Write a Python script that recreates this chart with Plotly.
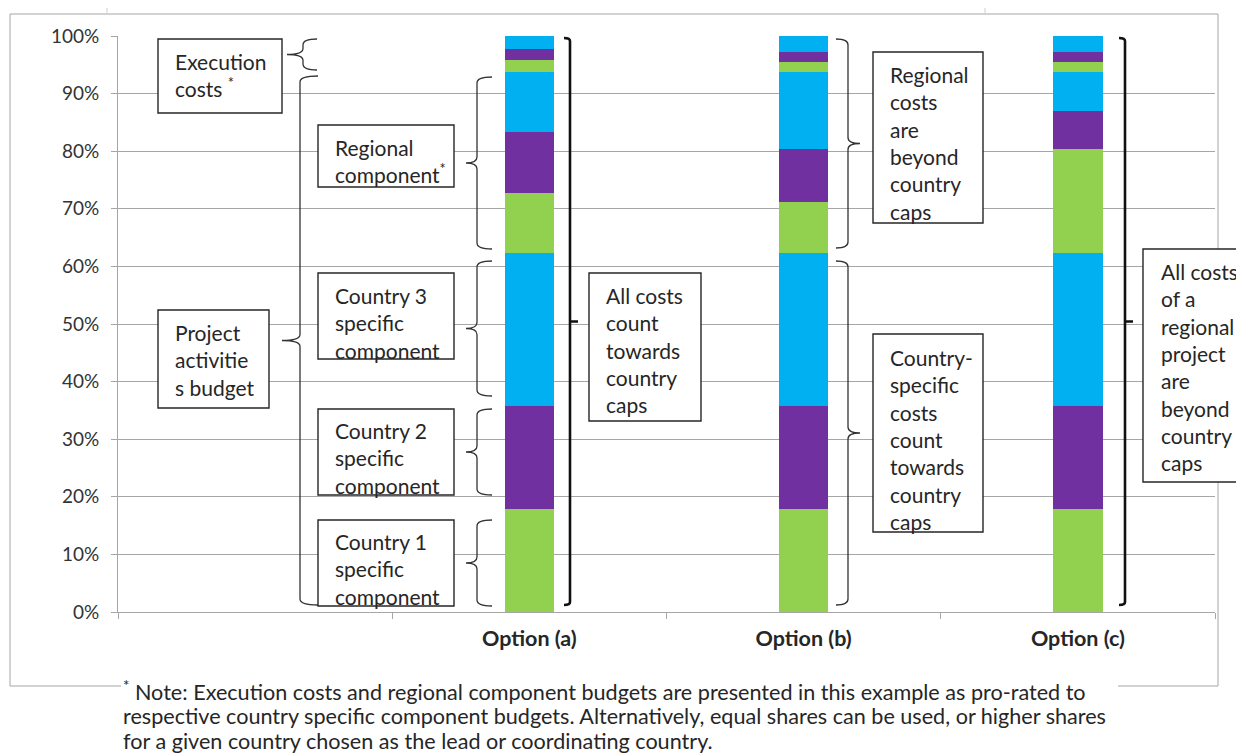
import plotly.graph_objects as go

# ---------------- data ----------------
options = ["Option (a)", "Option (b)", "Option (c)"]
categories = [" ", "Option (a)", "Option (b)", "Option (c)"]

country1 = [17.8, 17.8, 17.8]
country2 = [17.9, 17.9, 17.9]
country3 = [26.7, 26.7, 26.7]
regional1 = [10.4, 8.8, 17.9]
regional2 = [10.5, 9.1, 6.7]
regional3 = [10.4, 13.4, 6.7]
execution1 = [2.1, 1.8, 1.8]
execution2 = [1.9, 1.7, 1.7]
execution3 = [2.3, 2.8, 2.8]

y_ticks = [0, 10, 20, 30, 40, 50, 60, 70, 80, 90, 100]
y_tick_labels = ["0%", "10%", "20%", "30%", "40%", "50%", "60%", "70%", "80%", "90%", "100%"]

GREEN = "#92D050"
PURPLE = "#7030A0"
BLUE = "#00B0F0"

segments = [
    ("Country 1 specific component", country1, GREEN),
    ("Country 2 specific component", country2, PURPLE),
    ("Country 3 specific component", country3, BLUE),
    ("Regional component - country 1", regional1, GREEN),
    ("Regional component - country 2", regional2, PURPLE),
    ("Regional component - country 3", regional3, BLUE),
    ("Execution costs - country 1", execution1, GREEN),
    ("Execution costs - country 2", execution2, PURPLE),
    ("Execution costs - country 3", execution3, BLUE),
]

# ---------------- geometry helpers (screen pixel -> paper) ----------------
W, H = 1244, 753
OFF = 8                      # page body margin
L, R, T, B = 118, 1215, 36, 612


def px(x):
    return (x - L) / (R - L)


def py(y):
    return (B - y) / (B - T)


def pt(x, y):
    return f"{px(x):.5f},{py(y):.5f}"


def left_brace(xs, y1, y2, hook=15, point=12, r=6):
    ym = (y1 + y2) / 2
    return (f"M {pt(xs + hook, y1)} Q {pt(xs, y1)} {pt(xs, y1 + r)} "
            f"L {pt(xs, ym - r)} Q {pt(xs, ym)} {pt(xs - point, ym)} "
            f"Q {pt(xs, ym)} {pt(xs, ym + r)} L {pt(xs, y2 - r)} "
            f"Q {pt(xs, y2)} {pt(xs + hook, y2)}")


def right_brace(xs, y1, y2, hook=12, point=12, r=6):
    ym = (y1 + y2) / 2
    return (f"M {pt(xs - hook, y1)} Q {pt(xs, y1)} {pt(xs, y1 + r)} "
            f"L {pt(xs, ym - r)} Q {pt(xs, ym)} {pt(xs + point, ym)} "
            f"Q {pt(xs, ym)} {pt(xs, ym + r)} L {pt(xs, y2 - r)} "
            f"Q {pt(xs, y2)} {pt(xs - hook, y2)}")


def right_bracket(xs, y1, y2, hook=6, point=8, r=3):
    ym = (y1 + y2) / 2
    return (f"M {pt(xs - hook, y1)} Q {pt(xs, y1)} {pt(xs, y1 + r)} "
            f"L {pt(xs, y2 - r)} Q {pt(xs, y2)} {pt(xs - hook, y2)} "
            f"M {pt(xs, ym)} L {pt(xs + point, ym)}")


fig = go.Figure()

for name, vals, col in segments:
    fig.add_trace(go.Bar(
        x=options, y=vals, name=name, marker=dict(color=col, line=dict(width=0)),
        width=0.18, showlegend=False, hoverinfo="skip",
    ))

# keep the empty first category slot
fig.add_trace(go.Scatter(x=[" "], y=[None], mode="markers", showlegend=False, hoverinfo="skip"))

shapes = []
# outer chart border
shapes.append(dict(type="rect", xref="paper", yref="paper", x0=px(10), x1=px(1218), y0=py(686), y1=py(14),
                   line=dict(color="#a6a6a6", width=1), fillcolor="rgba(0,0,0,0)", layer="below"))
# faint top marks
for xx in (107, 985):
    shapes.append(dict(type="line", xref="paper", yref="paper", x0=px(xx), x1=px(xx), y0=py(14), y1=py(0),
                       line=dict(color="#d0d0d0", width=1), layer="below"))
# footnote white area covering the border
shapes.append(dict(type="rect", xref="paper", yref="paper", x0=px(121), x1=px(1118), y0=py(760), y1=py(677),
                   line=dict(width=0), fillcolor="white", layer="below"))

BRACE = dict(color="#333333", width=1.3)
# left braces
for xs, y1, y2, hook, point in [
    (303, 39, 70, 14, 16),      # execution costs
    (300, 76, 605, 18, 18),     # project activities budget
    (477, 77, 249, 15, 11),     # regional
    (477, 261, 396, 15, 11),    # country 3
    (477, 409, 495, 15, 11),    # country 2
    (477, 520, 606, 15, 11),    # country 1
]:
    shapes.append(dict(type="path", xref="paper", yref="paper", path=left_brace(xs, y1, y2, hook, point),
                       line=BRACE))
# option (b) braces
for y1, y2 in [(39, 248), (261, 605)]:
    shapes.append(dict(type="path", xref="paper", yref="paper", path=right_brace(848, y1, y2, 12, 12),
                       line=BRACE))
# option (a) and (c) brackets
for xs in (570, 1125):
    shapes.append(dict(type="path", xref="paper", yref="paper", path=right_bracket(xs, 38, 605),
                       line=dict(color="#111111", width=2.6)))

# text boxes
boxes = [
    # (left, top, right, bottom, text_left, text_center_y, text)
    (158, 39, 282, 113, 173, 75, "Execution<br>costs <sup>*</sup>"),
    (318, 125, 454, 187, 333, 161, "Regional<br>component<sup>*</sup>"),
    (318, 273, 454, 359, 333, 323, "Country 3<br>specific<br>component"),
    (318, 409, 454, 495, 333, 458, "Country 2<br>specific<br>component"),
    (318, 520, 454, 606, 333, 569, "Country 1<br>specific<br>component"),
    (158, 310, 269, 408, 173, 360, "Project<br>activitie<br>s budget"),
    (589, 273, 701, 421, 604, 350, "All costs<br>count<br>towards<br>country<br>caps"),
    (873, 52, 983, 223, 888, 143, "Regional<br>costs<br>are<br>beyond<br>country<br>caps"),
    (873, 334, 983, 532, 888, 439, "Country-<br>specific<br>costs<br>count<br>towards<br>country<br>caps"),
    (1143, 249, 1260, 482, 1159, 367,
     "All costs<br>of a<br>regional<br>project<br>are<br>beyond<br>country<br>caps"),
]

annotations = []
for l, t, r, b, tl, tc, txt in boxes:
    shapes.append(dict(type="rect", xref="paper", yref="paper", x0=px(l), x1=px(r), y0=py(b), y1=py(t),
                       line=dict(color="#262626", width=1.4), fillcolor="white"))
    annotations.append(dict(xref="paper", yref="paper", x=px(tl), y=py(tc), xanchor="left", yanchor="middle",
                            align="left", showarrow=False, text=txt,
                            font=dict(family="Lato", size=21, color="#262626")))

footnote_lines = [
    "<sup>*</sup> Note: Execution costs and regional component budgets are presented in this example as pro-rated to",
    "respective country specific component budgets. Alternatively, equal shares can be used, or higher shares",
    "for a given country chosen as the lead or coordinating country.",
]
for i, line in enumerate(footnote_lines):
    annotations.append(dict(xref="paper", yref="paper", x=px(121), y=py(690 + 25.5 * i), xanchor="left",
                            yanchor="middle", align="left", showarrow=False, text=line,
                            font=dict(family="Lato", size=21.6, color="#262626")))

fig.update_layout(
    width=W - OFF, height=H - OFF,
    margin=dict(l=L - OFF, r=W - R, t=T - OFF, b=H - B, pad=0),
    barmode="stack",
    paper_bgcolor="white", plot_bgcolor="white",
    showlegend=False,
    shapes=shapes, annotations=annotations,
    xaxis=dict(type="category", categoryorder="array", categoryarray=categories, range=[-0.5, 3.5],
               showgrid=False, showline=True, linecolor="#a6a6a6", linewidth=1,
               ticks="outside", tickson="boundaries", ticklen=6, tickcolor="#a6a6a6",
               tickfont=dict(family="Lato", size=21.5, color="#262626", weight="bold"),
               ticklabelstandoff=7, fixedrange=True),
    yaxis=dict(range=[0, 100], tickvals=y_ticks, ticktext=y_tick_labels,
               showgrid=True, gridcolor="#a6a6a6", gridwidth=1, zeroline=False,
               showline=True, linecolor="#a6a6a6", linewidth=1,
               ticks="outside", ticklen=6, tickcolor="#a6a6a6",
               tickfont=dict(family="Lato", size=19, color="#333333"),
               ticklabelstandoff=8, fixedrange=True),
    font=dict(family="Lato"),
)

fig.write_html("out.html")
